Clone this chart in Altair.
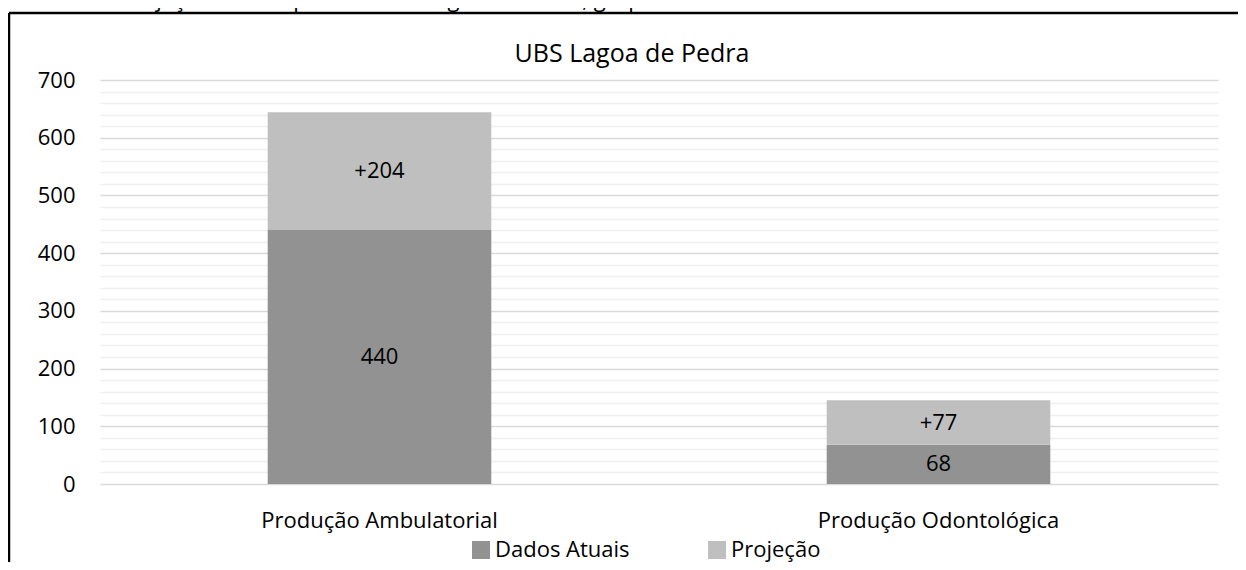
import altair as alt
import pandas as pd

# ---- data ----
categories = ["Produção Ambulatorial", "Produção Odontológica"]
dados_atuais = [440, 68]
projecao = [204, 77]
series = ["Dados Atuais", "Projeção"]
colors = ["#929292", "#bfbfbf"]
y_ticks = list(range(0, 701, 20))
header = "Gráfico 7 - Projeção dos outputs da UBS Lagoa de Pedra, grupo rural"
chart_title = "UBS Lagoa de Pedra"

rows = []
for c, d, p in zip(categories, dados_atuais, projecao):
    rows.append({"cat": c, "serie": series[0], "value": d, "label": f"{d}", "ord": 0})
    rows.append({"cat": c, "serie": series[1], "value": p, "label": f"+{p}", "ord": 1})
df = pd.DataFrame(rows)

FONT = "Open Sans"
W, H = 1118, 404

x_enc = alt.X(
    "cat:N", sort=categories, title=None,
    scale=alt.Scale(paddingInner=0.6, paddingOuter=0.3),
    axis=alt.Axis(labelAngle=0, ticks=False, domain=False, grid=False,
                  labelPadding=26, labelFontSize=22, labelColor="#000000",
                  labelFont=FONT, labelLimit=500),
)
y_axis = alt.Axis(
    values=y_ticks, ticks=False, domain=False, labelPadding=25,
    labelFontSize=22, labelFont=FONT, labelColor="#000000",
    labelExpr="datum.value % 100 === 0 ? datum.label : ''",
    gridColor=alt.condition("datum.value % 100 === 0", alt.value("#d9d9d9"), alt.value("#f0f0f0")),
    gridWidth=1.6,
)
y_scale = alt.Scale(domain=[0, 700], nice=False)

bars = alt.Chart(df).mark_bar().encode(
    x=x_enc,
    y=alt.Y("value:Q", stack="zero", scale=y_scale, axis=y_axis, title=None),
    color=alt.Color(
        "serie:N", sort=series,
        scale=alt.Scale(domain=series, range=colors),
        legend=alt.Legend(
            orient="none", legendX=370, legendY=459, direction="horizontal",
            title=None, symbolType="square", symbolSize=324, symbolStrokeWidth=0,
            symbolOpacity=1, labelFontSize=22, labelFont=FONT, labelColor="#000000",
            labelOffset=3, columnPadding=76,
        ),
    ),
    order=alt.Order("ord:Q"),
)

labels = alt.Chart(df).transform_stack(
    stack="value", groupby=["cat"], as_=["y0", "y1"], sort=[alt.SortField("ord")]
).transform_calculate(
    mid="(datum.y0 + datum.y1) / 2"
).mark_text(fontSize=22, font=FONT, color="#000000", baseline="middle").encode(
    x=x_enc,
    y=alt.Y("mid:Q", scale=y_scale, axis=y_axis, title=None),
    text="label:N",
)

title_mark = alt.Chart(pd.DataFrame({"t": [chart_title]})).mark_text(
    fontSize=25, font=FONT, color="#000000", align="center", baseline="alphabetic"
).encode(text="t:N", x=alt.value(532), y=alt.value(-18))

header_mark = alt.Chart(pd.DataFrame({"t": [header]})).mark_text(
    fontSize=22, font=FONT, color="#000000", align="left", baseline="alphabetic"
).encode(text="t:N", x=alt.value(-90), y=alt.value(-73))

frame = pd.DataFrame({"a": [0]})
border_top = alt.Chart(frame).mark_rule(color="#000000", strokeWidth=2.5).encode(
    x=alt.value(-91), x2=alt.value(1200), y=alt.value(-67)
)
border_left = alt.Chart(frame).mark_rule(color="#000000", strokeWidth=2.5).encode(
    x=alt.value(-91), y=alt.value(-67), y2=alt.value(520)
)

chart = alt.layer(bars, labels, title_mark, header_mark, border_top, border_left).properties(
    width=W, height=H,
    background="#ffffff",
    autosize=alt.AutoSizeParams(type="none"),
    padding={"left": 92, "top": 72, "right": 20, "bottom": 78},
).configure_view(stroke=None, strokeWidth=0)

chart.save("out.html", embed_options={"renderer": "svg", "actions": False})
